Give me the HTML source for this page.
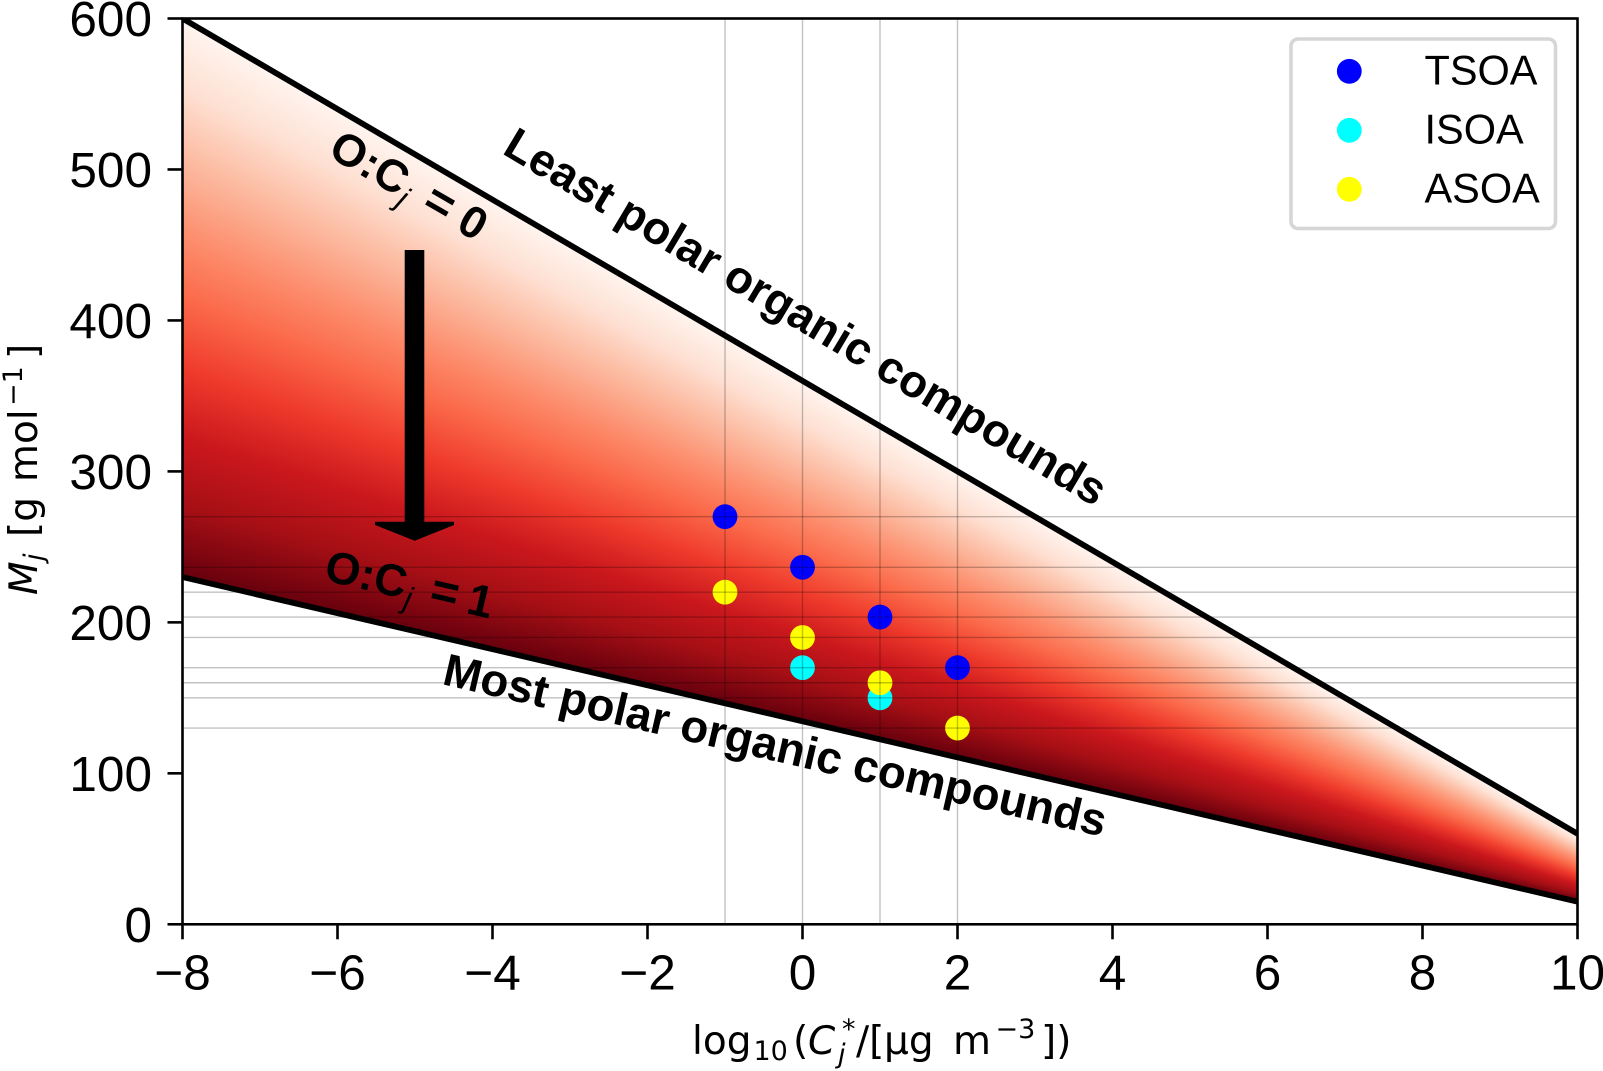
<!DOCTYPE html>
<html lang="en">
<head>
<meta charset="utf-8">
<title>Molar mass vs volatility</title>
<style>
html,body{margin:0;padding:0;background:#fff;}
#wrap{position:relative;width:1603px;height:1071px;overflow:hidden;}
canvas,svg{position:absolute;left:0;top:0;}
text{font-family:"Liberation Sans",Arial,sans-serif;fill:#000;}
.dj{font-family:"DejaVu Sans",sans-serif;}
</style>
</head>
<body>
<div id="wrap">
<canvas id="wedge" width="1603" height="1071"></canvas>
<svg id="plot" width="1603" height="1071" viewBox="0 0 1603 1071" xmlns="http://www.w3.org/2000/svg">
  <defs><clipPath id="axclip"><rect x="182.5" y="18.5" width="1395" height="905.8"></rect></clipPath></defs>
  <g id="bounds" clip-path="url(#axclip)"></g>
  <g id="points" clip-path="url(#axclip)"></g>
  <g id="grid" clip-path="url(#axclip)"></g>

  <polygon points="404.7,250 424.3,250 424.3,521.7 454,521.7 454,525 414.7,540.7 375,525 375,521.7 404.7,521.7" fill="#000"></polygon>

  <text transform="translate(501,153) rotate(30.8)" font-size="45.6" font-weight="bold">Least polar organic compounds</text>
  <text transform="translate(441,684) rotate(13)" font-size="45.6" font-weight="bold">Most polar organic compounds</text>

  <text transform="translate(326.5,155.4) rotate(30)" font-size="45" font-weight="bold"><tspan x="0" y="0">O:C</tspan><tspan x="84" y="9" font-size="31" font-style="italic" font-weight="normal">j</tspan><tspan x="108" y="0" font-size="48">=</tspan><tspan x="148" y="0">0</tspan></text>
  <text transform="translate(322.7,580) rotate(13)" font-size="45" font-weight="bold"><tspan x="0" y="0">O:C</tspan><tspan x="84" y="9" font-size="31" font-style="italic" font-weight="normal">j</tspan><tspan x="108" y="0" font-size="48">=</tspan><tspan x="146" y="0">1</tspan></text>

  <g id="ticks"></g>
  <rect x="182.5" y="18.5" width="1395" height="905.8" fill="none" stroke="#000" stroke-width="2.6"></rect>

  <text class="dj" font-size="39"><tspan x="692" y="1054">log</tspan><tspan x="753.5" y="1060" font-size="27">10</tspan><tspan x="793" y="1054">(</tspan><tspan x="808" y="1054" font-style="italic">C</tspan><tspan x="842" y="1038" font-size="27">*</tspan><tspan x="838" y="1063" font-size="27" font-style="italic">j</tspan><tspan x="856" y="1054">/[</tspan><tspan x="884" y="1054">µg</tspan><tspan x="953" y="1054">m</tspan><tspan x="995.5" y="1038" font-size="27">−3</tspan><tspan x="1041" y="1054">])</tspan></text>

  <text class="dj" transform="translate(37,595) rotate(-90)" font-size="39"><tspan x="0" y="0" font-style="italic">M</tspan><tspan x="34" y="6" font-size="27" font-style="italic">j</tspan><tspan x="58" y="0">[g</tspan><tspan x="113" y="0">mol</tspan><tspan x="189" y="-15" font-size="27">−1</tspan><tspan x="236" y="0">]</tspan></text>

  <g>
    <rect x="1291" y="39" width="264.5" height="189.5" rx="7" ry="7" fill="#fff" fill-opacity="0.9" stroke="#d6d6d6" stroke-width="3.6"></rect>
    <circle cx="1349.3" cy="71.3" r="12.4" fill="#0000ff"></circle>
    <circle cx="1349.3" cy="130.3" r="12.4" fill="#00ffff"></circle>
    <circle cx="1349.3" cy="189.3" r="12.4" fill="#ffff00"></circle>
    <text x="1424.5" y="84.5" font-size="41.5">TSOA</text>
    <text x="1424.5" y="143.5" font-size="41.5">ISOA</text>
    <text x="1424.5" y="202.5" font-size="41.5">ASOA</text>
  </g>
</svg>
</div>
<script>
// ---- chart data ----
const boundX = [-8, 10];
const leastPolarM = [600, 60];
const mostPolarM = [230, 15];
const xTicks = [-8, -6, -4, -2, 0, 2, 4, 6, 8, 10];
const yTicks = [0, 100, 200, 300, 400, 500, 600];
const tsoaX = [-1, 0, 1, 2];
const tsoaM = [270, 236.5, 203.5, 170];
const isoaX = [0, 1];
const isoaM = [170, 150];
const asoaX = [-1, 0, 1, 2];
const asoaM = [220, 190, 160, 130];
const gridX = [-1, 0, 1, 2];
const gridM = [270, 236.5, 220, 203.5, 190, 170, 160, 150, 130];

// ---- axis functions ----
const AX = {l: 182.5, r: 1577.5, t: 18.5, b: 924.3};
const xMin = -8, xMax = 10, yMin = 0, yMax = 600;
function sx(v) { return AX.l + (v - xMin) / (xMax - xMin) * (AX.r - AX.l); }
function sy(v) { return AX.b - (v - yMin) / (yMax - yMin) * (AX.b - AX.t); }
function ix(p) { return xMin + (p - AX.l) / (AX.r - AX.l) * (xMax - xMin); }
function iy(p) { return yMin + (AX.b - p) / (AX.b - AX.t) * (yMax - yMin); }
function lineAt(xs, ys, v) { return ys[0] + (v - xs[0]) / (xs[1] - xs[0]) * (ys[1] - ys[0]); }

const NS = 'http://www.w3.org/2000/svg';
function mk(tag, parent) {
  const el = document.createElementNS(NS, tag);
  parent.appendChild(el);
  return el;
}

// ---- gradient wedge ----
const reds = [[255,245,240],[254,224,210],[252,187,161],[252,146,114],[251,106,74],[239,59,44],[203,24,29],[165,15,21],[103,0,13]];
function redAt(t) {
  const f = Math.min(Math.max(t, 0), 1) * (reds.length - 1);
  const i = Math.min(Math.floor(f), reds.length - 2);
  const k = f - i;
  return [0, 1, 2].map(function (c) { return reds[i][c] + (reds[i + 1][c] - reds[i][c]) * k; });
}
(function drawWedge() {
  const ctx = document.getElementById('wedge').getContext('2d');
  const x0 = Math.ceil(AX.l), x1 = Math.floor(AX.r), y0 = Math.ceil(AX.t), y1 = Math.floor(AX.b);
  const w = x1 - x0, h = y1 - y0;
  const img = ctx.createImageData(w, h);
  for (let px = 0; px < w; px++) {
    const d = ix(x0 + px + 0.5);
    const top = lineAt(boundX, leastPolarM, d);
    const bot = lineAt(boundX, mostPolarM, d);
    for (let py = 0; py < h; py++) {
      const m = iy(y0 + py + 0.5);
      if (m > top || m < bot) continue;
      const col = redAt((top - m) / (top - bot));
      const o = (py * w + px) * 4;
      img.data[o] = col[0];
      img.data[o + 1] = col[1];
      img.data[o + 2] = col[2];
      img.data[o + 3] = 255;
    }
  }
  ctx.putImageData(img, x0, y0);
})();

// ---- boundary lines ----
const boundsG = document.getElementById('bounds');
const upperLine = mk('line', boundsG);


upperLine.setAttribute('x1', sx(boundX[0]));
upperLine.setAttribute('y1', sy(leastPolarM[0]));
upperLine.setAttribute('x2', sx(boundX[1]));
upperLine.setAttribute('y2', sy(leastPolarM[1]));
const lowerLine = mk('line', boundsG);


lowerLine.setAttribute('x1', sx(boundX[0]));
lowerLine.setAttribute('y1', sy(mostPolarM[0]));
lowerLine.setAttribute('x2', sx(boundX[1]));
lowerLine.setAttribute('y2', sy(mostPolarM[1]));
[upperLine, lowerLine].forEach(function (l) {
  l.setAttribute('stroke', '#000');
  l.setAttribute('stroke-width', '5.8');
});

// ---- scatter points ----
const pointsG = document.getElementById('points');
function drawSeries(xs, ms, color) {
  xs.forEach(function (v, i) {
    const c = mk('circle', pointsG);
    
    
    c.setAttribute('cx', sx(v));
    c.setAttribute('cy', sy(ms[i]));
    c.setAttribute('r', 12.4);
    c.setAttribute('fill', color);
  });
}
drawSeries(tsoaX, tsoaM, '#0000ff');
drawSeries(isoaX, isoaM, '#00ffff');
drawSeries(asoaX, asoaM, '#ffff00');

// ---- grid lines ----
const gridG = document.getElementById('grid');
gridX.forEach(function (v) {
  const l = mk('line', gridG);
  
  
  l.setAttribute('x1', sx(v));
  l.setAttribute('x2', sx(v));
  l.setAttribute('y1', AX.t);
  l.setAttribute('y2', AX.b);
  l.setAttribute('stroke', 'rgba(0,0,0,0.24)');
  l.setAttribute('stroke-width', '1.4');
});
gridM.forEach(function (v) {
  const l = mk('line', gridG);
  
  
  l.setAttribute('x1', AX.l);
  l.setAttribute('x2', AX.r);
  l.setAttribute('y1', sy(v));
  l.setAttribute('y2', sy(v));
  l.setAttribute('stroke', 'rgba(0,0,0,0.24)');
  l.setAttribute('stroke-width', '1.4');
});

// ---- ticks and tick labels ----
const ticksG = document.getElementById('ticks');
xTicks.forEach(function (v) {
  const t = mk('line', ticksG);
  
  
  t.setAttribute('x1', sx(v));
  t.setAttribute('x2', sx(v));
  t.setAttribute('y1', AX.b);
  t.setAttribute('y2', AX.b + 15);
  t.setAttribute('stroke', '#000');
  t.setAttribute('stroke-width', '2.6');
  const s = mk('text', ticksG);
  
  
  s.setAttribute('x', sx(v));
  s.setAttribute('y', 989.5);
  s.setAttribute('font-size', '49.5');
  s.setAttribute('text-anchor', 'middle');
  s.textContent = String(v).replace('-', '\u2212');
});
yTicks.forEach(function (v) {
  const t = mk('line', ticksG);
  
  
  t.setAttribute('x1', AX.l - 15);
  t.setAttribute('x2', AX.l);
  t.setAttribute('y1', sy(v));
  t.setAttribute('y2', sy(v));
  t.setAttribute('stroke', '#000');
  t.setAttribute('stroke-width', '2.6');
  const s = mk('text', ticksG);
  
  
  s.setAttribute('x', 152);
  s.setAttribute('y', sy(v) + 17.5);
  s.setAttribute('font-size', '49.5');
  s.setAttribute('text-anchor', 'end');
  s.textContent = String(v);
});
</script>
</body>
</html>
